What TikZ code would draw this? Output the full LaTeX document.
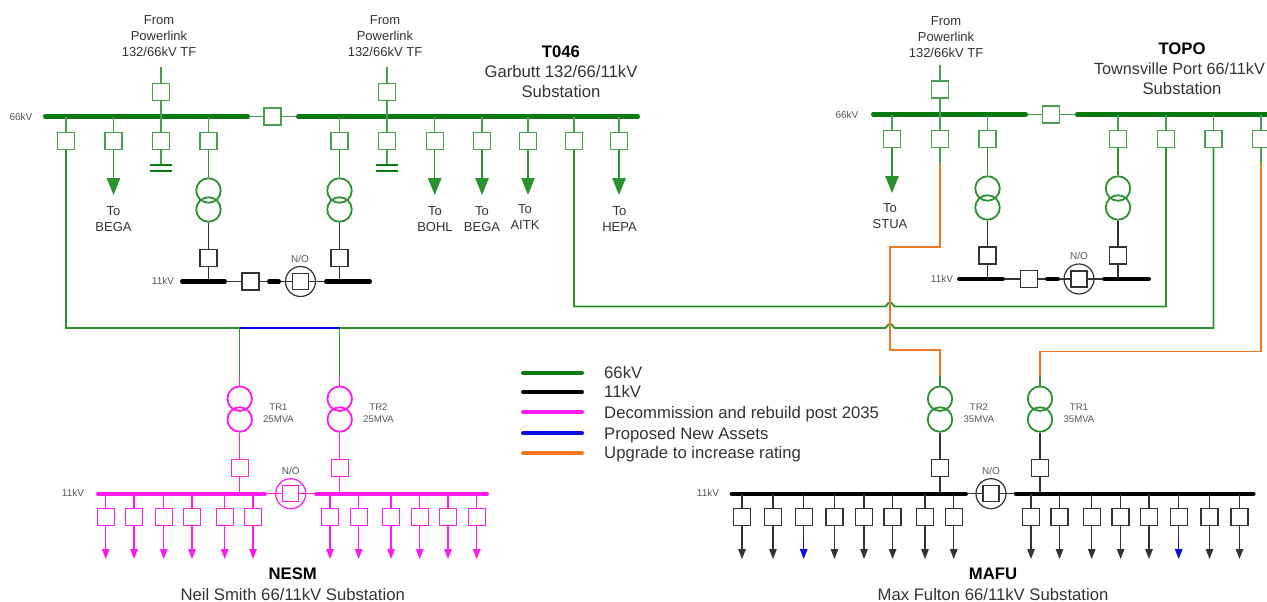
\documentclass[tikz,border=0pt]{standalone}
\usepackage{fontspec}
\setmainfont{Liberation Sans}
\usetikzlibrary{arrows.meta}
\definecolor{gbus}{HTML}{0B7A10}
\definecolor{gline}{HTML}{2C9130}
\definecolor{gbox}{HTML}{4C9F50}
\definecolor{mag}{HTML}{FF1AF0}
\definecolor{blu}{HTML}{0A0AE6}
\definecolor{org}{HTML}{EE7722}
\definecolor{blk}{HTML}{333333}
\definecolor{txt}{HTML}{333333}
\definecolor{txts}{HTML}{555555}
\tikzset{
  bus/.style={line width=4.4pt,line cap=round,shorten >=2.2pt,shorten <=2.2pt},
  legline/.style={line width=4.2pt,line cap=round,shorten >=2.1pt,shorten <=2.1pt},
  brk/.style={draw,rectangle,minimum size=17pt,inner sep=0pt,line width=1.25pt},
  brkS/.style={brk,minimum size=16pt},
  ln/.style={line width=1.3pt},
  fat/.style={line width=1.9pt,line join=miter},
  wind/.style={draw,circle,minimum size=24.5pt,inner sep=0pt,line width=1.8pt},
  nocirc/.style={draw,circle,minimum size=30pt,inner sep=0pt,line width=1.2pt},
  tiphead/.style={-{Triangle[length=17pt,width=13.5pt]}},
  smallhead/.style={-{Triangle[length=10pt,width=7.5pt]}},
  lS/.style={text=txts,font=\fontsize{10}{12}\selectfont,inner sep=0pt,align=center},
  lM/.style={text=txt,font=\fontsize{13}{16}\selectfont,inner sep=0pt,align=center},
  lL/.style={text=txt,font=\fontsize{16.7}{20}\selectfont,inner sep=0pt,align=center},
  lB/.style={text=black,font=\fontsize{16.7}{20}\selectfont\bfseries,inner sep=0pt},
  legt/.style={text=txt,font=\fontsize{16.7}{20}\selectfont,inner sep=0pt,anchor=base west},
}
\begin{document}
\begin{tikzpicture}[x=1pt,y=-1pt]
\useasboundingbox (0,0) rectangle (1267,602);

% ===== Garbutt T046 =====
\draw[bus,gbus] (43,116.5) coordinate (gAl) -- (250,116.5) coordinate (gAr);
\draw[bus,gbus] (296,116.5) coordinate (gBl) -- (640,116.5) coordinate (gBr);
\node[brk,draw=gbox] (gTie) at (272.5,116.5) {};
\draw[ln,gbox] (gAr) -- (gTie) -- (gBl);
\foreach \n/\x in {a/66,b/113.5,c/161,d/208.5}{
  \node[brk,draw=gbox] (g\n) at (\x,141) {};
  \draw[ln,gbox] (g\n) -- (g\n |- gAl);
}
\foreach \n/\x in {e/339.5,f/387,g/434.7,h/482,i/528,j/574,k/619}{
  \node[brk,draw=gbox] (g\n) at (\x,141) {};
  \draw[ln,gbox] (g\n) -- (g\n |- gBl);
}
\foreach \n/\x/\nb in {p/161/c,q/387/f}{
  \node[brk,draw=gbox] (g\n) at (\x,92) {};
  \coordinate (g\n top) at (\x,67);
  \draw[ln,gbox] (g\n top) -- (g\n);
  \draw[ln,gbox] (g\n) -- (g\n |- gAl);
  \coordinate (cap\n) at (\x,165);
  \draw[ln,gbox] (g\nb) -- (cap\n);
  \coordinate (cap\n l) at (\x-11,165);
  \coordinate (cap\n r) at (\x+11,165);
  \coordinate (cap\n L) at (\x-11,171);
  \coordinate (cap\n R) at (\x+11,171);
  \draw[fat,gbus] (cap\n l) -- (cap\n r);
  \draw[fat,gbus] (cap\n L) -- (cap\n R);
}
\foreach \n/\x in {b/113.5,g/434.7,h/482,i/528,k/619}{
  \coordinate (gt\n) at (\x,195);
  \draw[ln,gline,tiphead] (g\n) -- (gt\n);
}
\node[lM] (t1) at (159,36) {From\\Powerlink\\132/66kV TF};
\node[lM] (t2) at (385,36) {From\\Powerlink\\132/66kV TF};
\node[lS] (t3) at (21,117) {66kV};
\node[lM] (t4) at (113.5,219) {To\\BEGA};
\node[lM] (t5) at (435,219) {To\\BOHL};
\node[lM] (t6) at (482,219) {To\\BEGA};
\node[lM] (t7) at (525,217.5) {To\\AITK};
\node[lM] (t8) at (619.5,219) {To\\HEPA};
\node[lB] (t9) at (561,52) {T046};
\node[lL] (t10) at (561,82) {Garbutt 132/66/11kV\\Substation};

% Garbutt transformers and 11kV
\foreach \n/\x/\s in {u/208.5/d,v/339.5/e}{
  \node[wind,draw=gline] (gw\n1) at (\x,190.5) {};
  \node[wind,draw=gline] (gw\n2) at (\x,209.5) {};
  \node[brk,draw=blk] (gl\n) at (\x,258) {};
  \draw[ln,gline] (g\s) -- (gw\n1);
  \draw[ln,blk] (gw\n2) -- (gl\n);
  \draw[ln,blk] (gl\n) -- (\x,281.5);
}
\draw[bus,black] (180,281.5) coordinate (gCa) -- (227,281.5) coordinate (gCb);
\draw[bus,black] (267,281.5) coordinate (gCc) -- (281,281.5) coordinate (gCd);
\draw[bus,black] (324,281.5) coordinate (gCe) -- (372,281.5) coordinate (gCf);
\node[brk,draw=blk] (gCt) at (250.5,281.5) {};
\node[nocirc,draw=blk] (gNc) at (300.5,281.5) {};
\node[brkS,draw=blk] (gNb) at (300.5,281.5) {};
\draw[ln,blk] (gCb) -- (gCt) -- (gCc);
\draw[ln,blk] (gCd) -- (gNb);
\draw[ln,blk] (gNb) -- (gCe);
\node[lS] (t11) at (163,281) {11kV};
\node[lS] (t12) at (300,259) {N/O};

% ===== Townsville Port TOPO =====
\draw[bus,gbus] (871,114.5) coordinate (tAl) -- (1028,114.5) coordinate (tAr);
\draw[bus,gbus] (1075,114.5) coordinate (tBl) -- (1272,114.5) coordinate (tBr);
\node[brk,draw=gbox] (tTie) at (1051,114.5) {};
\draw[ln,gbox] (tAr) -- (tTie) -- (tBl);
\foreach \n/\x in {a/892,b/940,c/987.5}{
  \node[brk,draw=gbox] (t\n) at (\x,139) {};
  \draw[ln,gbox] (t\n) -- (t\n |- tAl);
}
\foreach \n/\x in {d/1118,e/1166,f/1213.5,g/1261}{
  \node[brk,draw=gbox] (t\n) at (\x,139) {};
  \draw[ln,gbox] (t\n) -- (t\n |- tBl);
}
\node[brk,draw=gbox] (tp) at (940,89.5) {};
\coordinate (tptop) at (940,65);
\draw[ln,gbox] (tptop) -- (tp);
\draw[ln,gbox] (tp) -- (tp |- tAl);
\coordinate (tta) at (892,193);
\draw[ln,gline,tiphead] (ta) -- (tta);
\node[lM] (t13) at (946,37) {From\\Powerlink\\132/66kV TF};
\node[lS] (t14) at (847,115) {66kV};
\node[lM] (t15) at (890,216) {To\\STUA};
\node[lB] (t16) at (1182,49) {TOPO};
\node[lL,font=\fontsize{16.2}{20}\selectfont] (t17) at (1179.5,69) {Townsville Port 66/11kV};
\node[lL] (t17b) at (1182,89) {Substation};
\foreach \n/\x/\s in {u/987.5/c,v/1118/d}{
  \node[wind,draw=gline] (tw\n1) at (\x,188.5) {};
  \node[wind,draw=gline] (tw\n2) at (\x,207.5) {};
  \node[brk,draw=blk] (tl\n) at (\x,255.5) {};
  \draw[ln,gline] (t\s) -- (tw\n1);
  \draw[ln,blk] (tw\n2) -- (tl\n);
  \draw[ln,blk] (tl\n) -- (\x,279);
}
\draw[bus,black] (957,279) coordinate (tCa) -- (1005,279) coordinate (tCb);
\draw[bus,black] (1045,279) coordinate (tCc) -- (1060,279) coordinate (tCd);
\draw[bus,black] (1102,279) coordinate (tCe) -- (1151,279) coordinate (tCf);
\node[brk,draw=blk] (tCt) at (1029,279) {};
\node[nocirc,draw=blk] (tNc) at (1079,279) {};
\node[brkS,draw=blk] (tNb) at (1079,279) {};
\draw[ln,blk] (tCb) -- (tCt) -- (tCc);
\draw[ln,blk] (tCd) -- (tNb);
\draw[ln,blk] (tNb) -- (tCe);
\node[lS] (t18) at (942,279) {11kV};
\node[lS] (t19) at (1079,256) {N/O};

% ===== NESM =====
\foreach \n/\x/\lab/\lx in {a/239.7/TR1/278.5,b/339.7/TR2/378.5}{
  \node[wind,draw=mag] (nw\n1) at (\x,398.7) {};
  \node[wind,draw=mag] (nw\n2) at (\x,419.5) {};
  \node[brk,draw=mag] (nl\n) at (\x,467.7) {};
  \coordinate (nc\n) at (\x,376);
  \draw[ln,mag] (nc\n) -- (nw\n1);
  \draw[ln,mag] (nw\n2) -- (nl\n);
  \draw[ln,mag] (nl\n) -- (\x,493.7);
  \node[lS,font=\fontsize{9.6}{12}\selectfont] (nt\n) at (\lx,413) {\lab\\25MVA};
}
\draw[bus,mag] (96,493.7) coordinate (nAl) -- (267,493.7) coordinate (nAr);
\draw[bus,mag] (314,493.7) coordinate (nBl) -- (489,493.7) coordinate (nBr);
\node[nocirc,draw=mag] (nNc) at (290.7,493.7) {};
\node[brkS,draw=mag] (nNb) at (290.7,493.7) {};
\draw[ln,mag] (nAr) -- (nNb);
\draw[ln,mag] (nNb) -- (nBl);
\node[lS] (t20) at (290.7,471) {N/O};
\node[lS] (t21) at (73,493) {11kV};
\foreach \n/\x in {a/105.7,b/134,c/163.7,d/192,e/224.7,f/253,g/330,h/358.7,i/391,j/419.7,k/448,l/476.7}{
  \node[brk,draw=mag] (nf\n) at (\x,516.7) {};
  \coordinate (nft\n) at (\x,559);
  \draw[ln,mag] (nf\n) -- (nf\n |- nAl);
  \draw[ln,mag,smallhead] (nf\n) -- (nft\n);
}
\node[lB] (t22) at (292.7,574) {NESM};
\node[lL] (t23) at (292.7,595) {Neil Smith 66/11kV Substation};

% ===== MAFU =====
\foreach \n/\x/\lab/\lx in {a/940/TR2/979,b/1040/TR1/1079}{
  \node[wind,draw=gline] (mw\n1) at (\x,398.7) {};
  \node[wind,draw=gline] (mw\n2) at (\x,419.5) {};
  \node[brk,draw=blk] (ml\n) at (\x,467.7) {};
  \coordinate (mc\n) at (\x,376);
  \draw[ln,gline] (mc\n) -- (mw\n1);
  \draw[ln,blk] (mw\n2) -- (ml\n);
  \draw[ln,blk] (ml\n) -- (\x,493.7);
  \node[lS,font=\fontsize{9.6}{12}\selectfont] (mt\n) at (\lx,413) {\lab\\35MVA};
}
\draw[bus,black] (729.5,493.7) coordinate (mAl) -- (968,493.7) coordinate (mAr);
\draw[bus,black] (1013.7,493.7) coordinate (mBl) -- (1255.6,493.7) coordinate (mBr);
\node[nocirc,draw=blk] (mNc) at (991,493.7) {};
\node[brkS,draw=blk] (mNb) at (991,493.7) {};
\draw[ln,blk] (mAr) -- (mNb);
\draw[ln,blk] (mNb) -- (mBl);
\node[lS] (t24) at (991,471) {N/O};
\node[lS] (t25) at (708,492.5) {11kV};
\foreach \n/\x in {a/742,b/773,d/834.5,e/864,f/892.6,g/925,h/953.7,i/1031,j/1059.5,k/1091.7,l/1120.6,m/1149,o/1209.5,p/1239.5}{
  \node[brk,draw=blk] (mf\n) at (\x,517) {};
  \coordinate (mft\n) at (\x,559);
  \draw[ln,blk] (mf\n) -- (mf\n |- mAl);
  \draw[ln,blk,smallhead] (mf\n) -- (mft\n);
}
\foreach \n/\x in {c/803.7,n/1178.7}{
  \node[brk,draw=blk] (mf\n) at (\x,517) {};
  \coordinate (mfm\n) at (\x,538);
  \coordinate (mft\n) at (\x,559);
  \draw[ln,blk] (mf\n) -- (mf\n |- mAl);
  \draw[ln,blk] (mf\n) -- (mfm\n);
  \draw[ln,blu,smallhead] (mfm\n) -- (mft\n);
}
\node[lB] (t26) at (993,574) {MAFU};
\node[lL] (t27) at (993,595) {Max Fulton 66/11kV Substation};

% ===== interconnecting circuits =====
\coordinate (j1a) at (885,306.5); \coordinate (j1b) at (895,306.5);
\coordinate (j2a) at (885,328);   \coordinate (j2b) at (895,328);
\coordinate (c1) at (574,306.5);  \coordinate (c2) at (1166,306.5);
\coordinate (c3) at (66,328);     \coordinate (c4) at (1213.5,328);
\coordinate (na) at (239.7,328);  \coordinate (nb) at (339.7,328);
\draw[fat,gline] (gj) -- (c1) -- (j1a)
  .. controls (887,306.5) and (887,302.5) .. (890,302.5)
  .. controls (893,302.5) and (893,306.5) .. (j1b) -- (c2) -- (te);
\draw[fat,gline] (ga) -- (c3) -- (na);
\draw[fat,gline] (nb) -- (j2a)
  .. controls (887,328) and (887,324) .. (890,324)
  .. controls (893,324) and (893,328) .. (j2b) -- (c4) -- (tf);
\draw[ln,gline] (na) -- (nca);
\draw[ln,gline] (nb) -- (ncb);
\draw[fat,blu] (na) -- (nb);
\coordinate (o1) at (940,163); \coordinate (o2) at (940,247);
\coordinate (o3) at (890,247); \coordinate (o4) at (890,350);
\coordinate (o5) at (940,350);
\draw[ln,gbox] (tb) -- (o1);
\draw[fat,org] (o1) -- (o2) -- (o3) -- (o4) -- (o5) -- (mca);
\coordinate (p1) at (1261,163); \coordinate (p2) at (1261,351.5);
\coordinate (p3) at (1040,351.5);
\draw[ln,gbox] (tg) -- (p1);
\draw[fat,org] (p1) -- (p2) -- (p3) -- (mcb);

% ===== legend =====
\foreach \n/\y/\c/\s in {a/372.7/gbus/66kV,b/392/black/11kV,c/412.3/mag/Decommission and rebuild post 2035,d/433.3/blu/Proposed New Assets,e/453/org/Upgrade to increase rating}{
  \coordinate (la\n) at (521,\y);
  \coordinate (lb\n) at (584,\y);
  \draw[legline,\c] (la\n) -- (lb\n);
  \node[legt] (lt\n) at (604,\y+5.8) {\s};
}
\end{tikzpicture}
\end{document}
